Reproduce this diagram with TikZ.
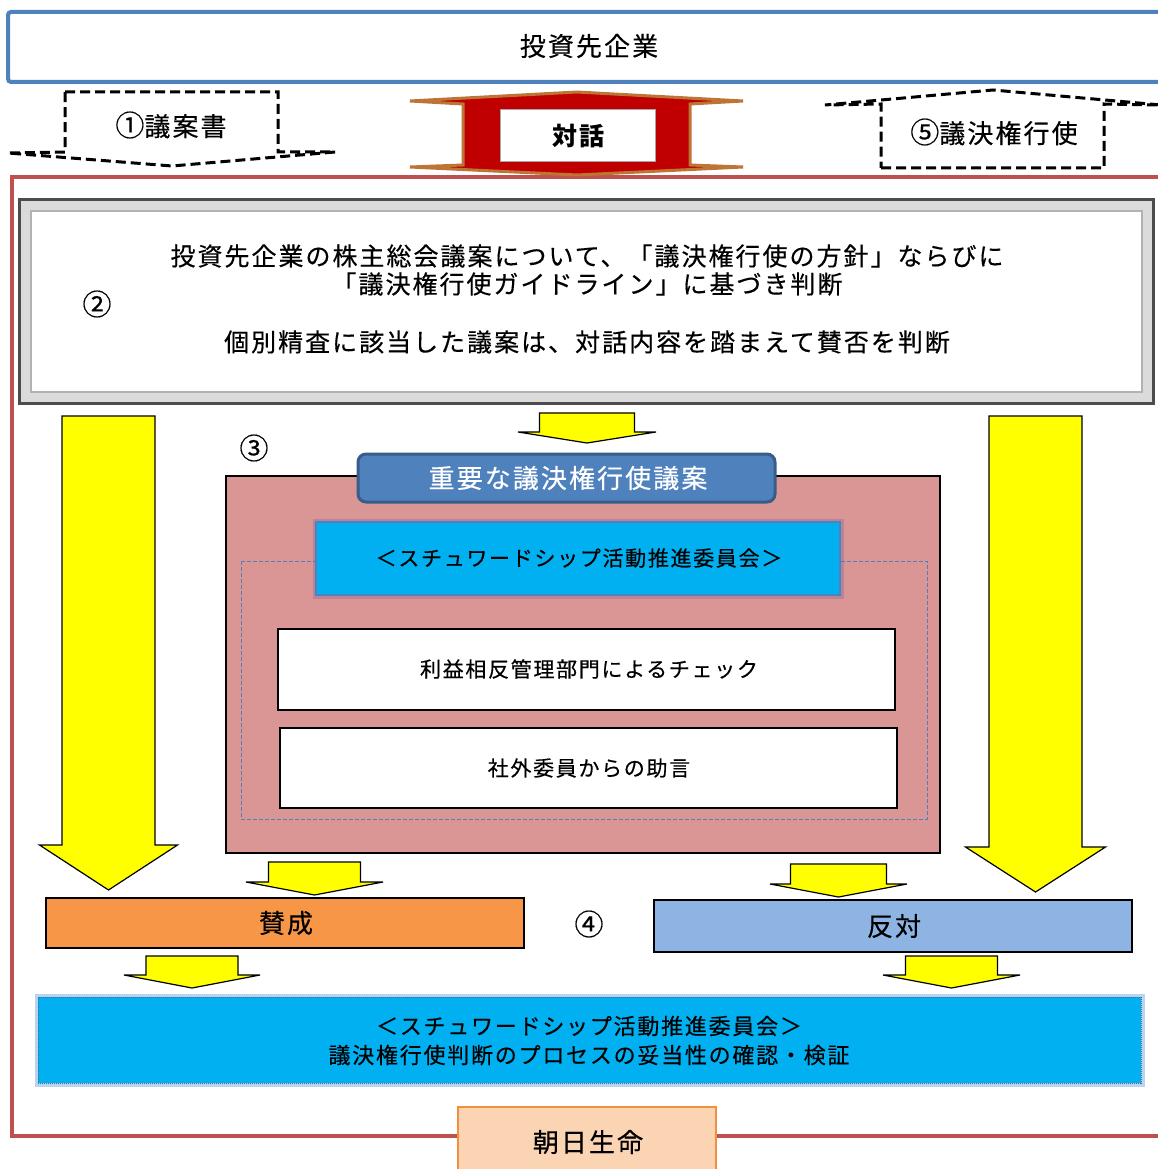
\documentclass[tikz,border=0pt]{standalone}
\usepackage{fontspec}
\setmainfont{Noto Sans CJK JP}
\newfontfamily\jp[LetterSpace=8,FakeBold=0.35]{Noto Sans CJK JP}
\newfontfamily\jpb[LetterSpace=8]{Noto Sans CJK JP}
\newcommand\cnum[1]{{\fontsize{29}{29}\selectfont #1}}
\definecolor{topblue}{HTML}{4F81BD}
\definecolor{framered}{HTML}{C0504D}
\definecolor{pinkfill}{HTML}{D99694}
\definecolor{barblue}{HTML}{4F81BD}
\definecolor{bardark}{HTML}{385D8A}
\definecolor{cyanfill}{HTML}{00B0F0}
\definecolor{orangefill}{HTML}{F79646}
\definecolor{lightbluefill}{HTML}{8EB4E3}
\definecolor{peachfill}{HTML}{FBD4B4}
\definecolor{peachedge}{HTML}{F0903C}
\definecolor{dlgred}{HTML}{C00000}
\definecolor{dlgedge}{HTML}{BE7434}
\definecolor{arrowyellow}{HTML}{FFFF00}
\definecolor{glowpurple}{HTML}{8064A2}
\definecolor{glowblue}{HTML}{9DC3E6}
\newcommand\yblockarrow[6]{% cx, shaft half width, head half width, top y, head y, tip y
  \draw[yarrow] ({#1-#2},#4) -- ({#1+#2},#4) -- ({#1+#2},#5) -- ({#1+#3},#5)
    -- (#1,#6) -- ({#1-#3},#5) -- ({#1-#2},#5) -- cycle;}
\begin{document}
\begin{tikzpicture}[x=1pt,y=-1pt,
  lbl/.style={font=\jp\fontsize{26}{26}\selectfont, inner sep=0pt, text=black},
  mlbl/.style={font=\jp\fontsize{25}{25}\selectfont, inner sep=0pt, text=black},
  slbl/.style={font=\jp\fontsize{21}{21}\selectfont, inner sep=0pt, text=black},
  blbl/.style={font=\jp\fontsize{22}{22}\selectfont, inner sep=0pt, text=black},
  blk/.style={draw=black, line width=1.3pt, inner sep=0pt},
  yarrow/.style={fill=arrowyellow, draw=black, line width=1.2pt, line join=miter},
  dasharrow/.style={draw=black, line width=3pt, dash pattern=on 10pt off 5pt, line join=miter},
]
\useasboundingbox (0,0) rectangle (1158,1169);
\clip (0,0) rectangle (1158,1169);
\fill[white] (0,0) rectangle (1158,1169);

% outer red frame (Asahi Life)
\draw[framered, line width=4pt] (12,177) rectangle (1190,1136);

% top company box
\node[draw=topblue, line width=4pt, rounded corners=3pt, minimum width=1162pt, minimum height=70pt, inner sep=0pt] (company) at (589,47) {};
\node[lbl] (companytxt) at (589,46) {投資先企業};

% (1) proposal arrow (down, dashed)
\draw[dasharrow] (65,92) -- (278,92) -- (278,152) -- (335,152) -- (172,166) -- (8,153) -- (65,152) -- cycle;
\node[lbl] (proposal) at (171,125) {\cnum{①}議案書};

% (5) exercise arrow (up, dashed)
\draw[dasharrow] (881,168) -- (1104,168) -- (1104,104) -- (1161,105) -- (993,90) -- (825,105) -- (881,104) -- cycle;
\node[lbl] (exercise) at (994,132) {\cnum{⑤}議決権行使};

% dialogue up-down arrow
\draw[draw=dlgedge, fill=dlgred, line width=3pt, line join=miter]
  (410,101) -- (577,92) -- (743,101) -- (690,104) -- (690,165) -- (743,167)
  -- (577,175) -- (410,167) -- (463,165) -- (463,104) -- cycle;
\node[draw=black!35, fill=white, line width=1pt, minimum width=155pt, minimum height=52pt, inner sep=0pt] (dialogue) at (578,136) {};
\node[lbl, font=\jpb\bfseries\fontsize{25}{25}\selectfont] (dialoguetxt) at (578,136) {対話};

% box (2) with bevel frame
\node[minimum width=1133pt, minimum height=203pt, inner sep=0pt, fill=white] (judge) at (586.5,301.5) {};
\draw[black!14, line width=9pt] (25.5,205.5) rectangle (1147.5,397.5);
\draw[black!30, line width=2pt] (31,211) rectangle (1142,392);
\draw[black!70, line width=3pt] (judge.north west) rectangle (judge.south east);
\node[lbl] (two) at (97,304) {\cnum{②}};
\node[mlbl] (p2a) at (587,256) {投資先企業の株主総会議案について、「議決権行使の方針」ならびに};
\node[mlbl] (p2b) at (587,284) {「議決権行使ガイドライン」に基づき判断};
\node[mlbl] (p2c) at (587,342) {個別精査に該当した議案は、対話内容を踏まえて賛否を判断};

% big side arrows
\yblockarrow{108.5}{46.5}{69}{416}{845}{890}
\yblockarrow{1035.5}{46.5}{70}{416}{847}{892}
% small center arrow
\yblockarrow{587}{47.5}{69}{413}{432}{443}

% (3) important proposals
\node[lbl] (three) at (254,448) {\cnum{③}};
\node[blk, fill=pinkfill, minimum width=714pt, minimum height=377pt] (important) at (583,664.5) {};
\draw[topblue, line width=1pt, dash pattern=on 4pt off 2pt] (241,561) rectangle (927,819);
\node[draw=bardark, fill=barblue, line width=3pt, rounded corners=8pt, minimum width=417pt, minimum height=48pt, inner sep=0pt] (bar) at (566.5,478) {};
\node[lbl, text=white] (bartxt) at (568,478) {重要な議決権行使議案};

% stewardship committee (inner)
\draw[glowpurple, opacity=0.35, line width=7pt] (316,522) rectangle (840,595);
\node[draw=topblue, fill=cyanfill, line width=1.5pt, minimum width=524pt, minimum height=73pt, inner sep=0pt] (committee) at (578,558.5) {};
\node[slbl] (committeetxt) at (579,558) {＜スチュワードシップ活動推進委員会＞};

\node[blk, fill=white, minimum width=617pt, minimum height=81pt] (check) at (586.5,669.5) {};
\node[slbl] (checktxt) at (589,669) {利益相反管理部門によるチェック};
\node[blk, fill=white, minimum width=617pt, minimum height=80pt] (advice) at (588.5,768) {};
\node[slbl] (advicetxt) at (589,768) {社外委員からの助言};

% arrows into for / against
\yblockarrow{314.5}{46}{68.5}{862}{882}{895}
\yblockarrow{838.5}{48}{68.5}{864}{884}{897}

% (4) for / against
\node[blk, fill=orangefill, minimum width=478pt, minimum height=50pt] (for) at (285,923) {};
\node[lbl] (fortxt) at (286,923) {賛成};
\node[lbl] (four) at (589,924) {\cnum{④}};
\node[blk, fill=lightbluefill, minimum width=478pt, minimum height=52pt] (against) at (893,926) {};
\node[lbl] (againsttxt) at (894,926) {反対};

% arrows into bottom committee
\yblockarrow{192}{46}{68}{956}{975}{988}
\yblockarrow{951.5}{46}{68.5}{956}{975}{988}

% bottom committee box
\draw[glowblue, opacity=0.7, line width=7pt] (38,997) rectangle (1141,1083);
\node[draw=topblue!80!black, dash pattern=on 1pt off 1pt, line width=1pt, fill=cyanfill, minimum width=1103pt, minimum height=86pt, inner sep=0pt] (review) at (589.5,1040) {};
\node[blbl] (reviewa) at (589,1026) {＜スチュワードシップ活動推進委員会＞};
\node[blbl] (reviewb) at (589,1055) {議決権行使判断のプロセスの妥当性の確認・検証};

% Asahi Life label box
\node[draw=peachedge, fill=peachfill, line width=1.5pt, minimum width=258pt, minimum height=80pt, inner sep=0pt] (asahi) at (587,1147) {};
\node[lbl] (asahitxt) at (588,1142) {朝日生命};
\end{tikzpicture}
\end{document}
